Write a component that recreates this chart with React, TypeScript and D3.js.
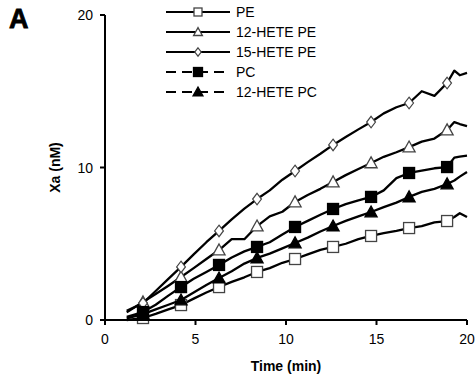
import React from "react";
import * as d3 from "d3";

// time points (min)
const times = [1.2, 2.1, 2.8, 3.5, 4.2, 4.9, 5.6, 6.3, 7.0, 7.7, 8.4, 9.1, 9.8, 10.5, 11.2, 11.9, 12.6, 13.3, 14.0, 14.7, 15.4, 16.1, 16.8, 17.5, 18.2, 18.9, 19.3, 19.6, 20.0];
// times carrying a marker
const markerTimes = [2.1, 4.2, 6.3, 8.4, 10.5, 12.6, 14.7, 16.8, 18.9];

// Xa (nM) per series
const pe = [0.0, 0.13, 0.4, 0.7, 0.98, 1.4, 1.8, 2.16, 2.5, 2.8, 3.15, 3.4, 3.75, 4.0, 4.3, 4.6, 4.79, 5.0, 5.3, 5.51, 5.7, 5.85, 6.03, 6.15, 6.4, 6.49, 6.75, 7.0, 6.75];
const hete12pe = [0.5, 1.18, 1.7, 2.25, 2.82, 3.4, 4.0, 4.59, 5.3, 5.3, 6.16, 6.8, 7.1, 7.74, 8.2, 8.6, 9.05, 9.5, 9.9, 10.3, 10.7, 11.0, 11.34, 11.7, 11.9, 12.46, 12.98, 12.85, 12.72];
const hete15pe = [0.6, 1.11, 1.9, 2.7, 3.48, 4.3, 5.1, 5.84, 6.6, 7.3, 7.93, 8.5, 9.2, 9.77, 10.35, 10.9, 11.48, 12.0, 12.5, 12.98, 13.55, 13.95, 14.23, 15.0, 14.7, 15.54, 16.35, 16.05, 16.2];
const pc = [0.2, 0.52, 1.0, 1.6, 2.16, 2.7, 3.15, 3.61, 4.1, 4.5, 4.79, 5.1, 5.6, 6.1, 6.5, 6.9, 7.28, 7.6, 7.85, 8.07, 8.5, 9.3, 9.64, 9.8, 9.95, 10.03, 10.65, 10.72, 10.78];
const hete12pc = [0.1, 0.39, 0.7, 1.0, 1.31, 1.8, 2.3, 2.75, 3.2, 3.7, 4.07, 4.35, 4.7, 5.05, 5.4, 5.8, 6.16, 6.5, 6.8, 7.08, 7.4, 7.7, 8.07, 8.4, 8.6, 8.92, 9.15, 9.4, 9.7];

const seriesNames = ["PE", "12-HETE PE", "15-HETE PE", "PC", "12-HETE PC"];
const seriesValues = [pe, hete12pe, hete15pe, pc, hete12pc];
const markerTypes = ["openSquare", "openTriangle", "openDiamond", "filledSquare", "filledTriangle"];
const legendDashed = [false, false, false, true, true];

const xTicks = [0, 5, 10, 15, 20];
const yTicks = [0, 10, 20];

const W = 475;
const H = 379;
const m = { left: 105, right: 8, top: 15, bottom: 59 };

function Marker({ type, x, y, s }: { type: string; x: number; y: number; s: number }) {
  const h = s / 2;
  if (type === "openSquare" || type === "filledSquare") {
    return (
      <rect
        x={x - h}
        y={y - h}
        width={s}
        height={s}
        fill={type === "filledSquare" ? "#000" : "#fff"}
        stroke={type === "filledSquare" ? "#000" : "#444"}
        strokeWidth={1.3}
      />
    );
  }
  if (type === "openTriangle" || type === "filledTriangle") {
    const t = h * 1.1;
    return (
      <path
        d={`M${x},${y - t}L${x + t},${y + t * 0.8}L${x - t},${y + t * 0.8}Z`}
        fill={type === "filledTriangle" ? "#000" : "#fff"}
        stroke={type === "filledTriangle" ? "#000" : "#444"}
        strokeWidth={1.3}
      />
    );
  }
  const dy = h * 1.05;
  const dx = h * 0.8;
  return (
    <path
      d={`M${x},${y - dy}L${x + dx},${y}L${x},${y + dy}L${x - dx},${y}Z`}
      fill="#fff"
      stroke="#444"
      strokeWidth={1.2}
    />
  );
}

export default function App() {
  const x = d3.scaleLinear().domain([0, 20]).range([m.left, W - m.right]);
  const y = d3.scaleLinear().domain([0, 20]).range([H - m.bottom, m.top]);
  const line = d3
    .line<number>()
    .x((_, i) => x(times[i]))
    .y((d) => y(d));

  const font = "Arial, 'Liberation Sans', sans-serif";

  return (
    <svg width={W} height={H} style={{ position: "absolute", left: 0, top: 0, background: "#fff" }} fontFamily={font}>
      <text x={9} y={28} fontSize={27} fontWeight="900" stroke="#000" strokeWidth={0.8}>A</text>

      {/* series */}
      {seriesValues.map((vals, si) => (
        <g key={seriesNames[si]}>
          <path d={line(vals) || ""} fill="none" stroke="#000" strokeWidth={2.3} strokeLinejoin="round" />
          {vals.map((v, i) =>
            markerTimes.includes(times[i]) ? (
              <Marker key={i} type={markerTypes[si]} x={x(times[i])} y={y(v)} s={11} />
            ) : null
          )}
        </g>
      ))}

      {/* axes */}
      <line x1={x(0)} x2={x(20)} y1={y(0)} y2={y(0)} stroke="#000" strokeWidth={2} />
      <line x1={x(0)} x2={x(0)} y1={y(0)} y2={y(20)} stroke="#000" strokeWidth={2} />
      {xTicks.map((t) => (
        <g key={"x" + t}>
          <line x1={x(t)} x2={x(t)} y1={y(0)} y2={y(0) + 5} stroke="#000" strokeWidth={2} />
          <text x={x(t)} y={y(0) + 24} fontSize={14} textAnchor="middle">{t}</text>
        </g>
      ))}
      {yTicks.map((t) => (
        <g key={"y" + t}>
          <line x1={x(0) - 5} x2={x(0)} y1={y(t)} y2={y(t)} stroke="#000" strokeWidth={2} />
          <text x={x(0) - 12} y={y(t) + 5} fontSize={14} textAnchor="end">{t}</text>
        </g>
      ))}
      <text x={(x(0) + x(20)) / 2} y={371} fontSize={14} fontWeight="bold" textAnchor="middle">Time (min)</text>
      <text transform={`translate(60 ${(y(0) + y(20)) / 2}) rotate(-90)`} fontSize={14} fontWeight="bold" textAnchor="middle">Xa (nM)</text>

      {/* legend */}
      {seriesNames.map((name, i) => {
        const ly = 12 + i * 20;
        return (
          <g key={"lg" + name}>
            <line
              x1={166}
              x2={230}
              y1={ly}
              y2={ly}
              stroke="#000"
              strokeWidth={2}
              strokeDasharray={legendDashed[i] ? "10 6" : undefined}
            />
            <Marker type={markerTypes[i]} x={198} y={ly} s={markerTypes[i].startsWith("filled") ? 9 : 8} />
            <text x={236} y={ly + 5} fontSize={14}>{name}</text>
          </g>
        );
      })}
    </svg>
  );
}
